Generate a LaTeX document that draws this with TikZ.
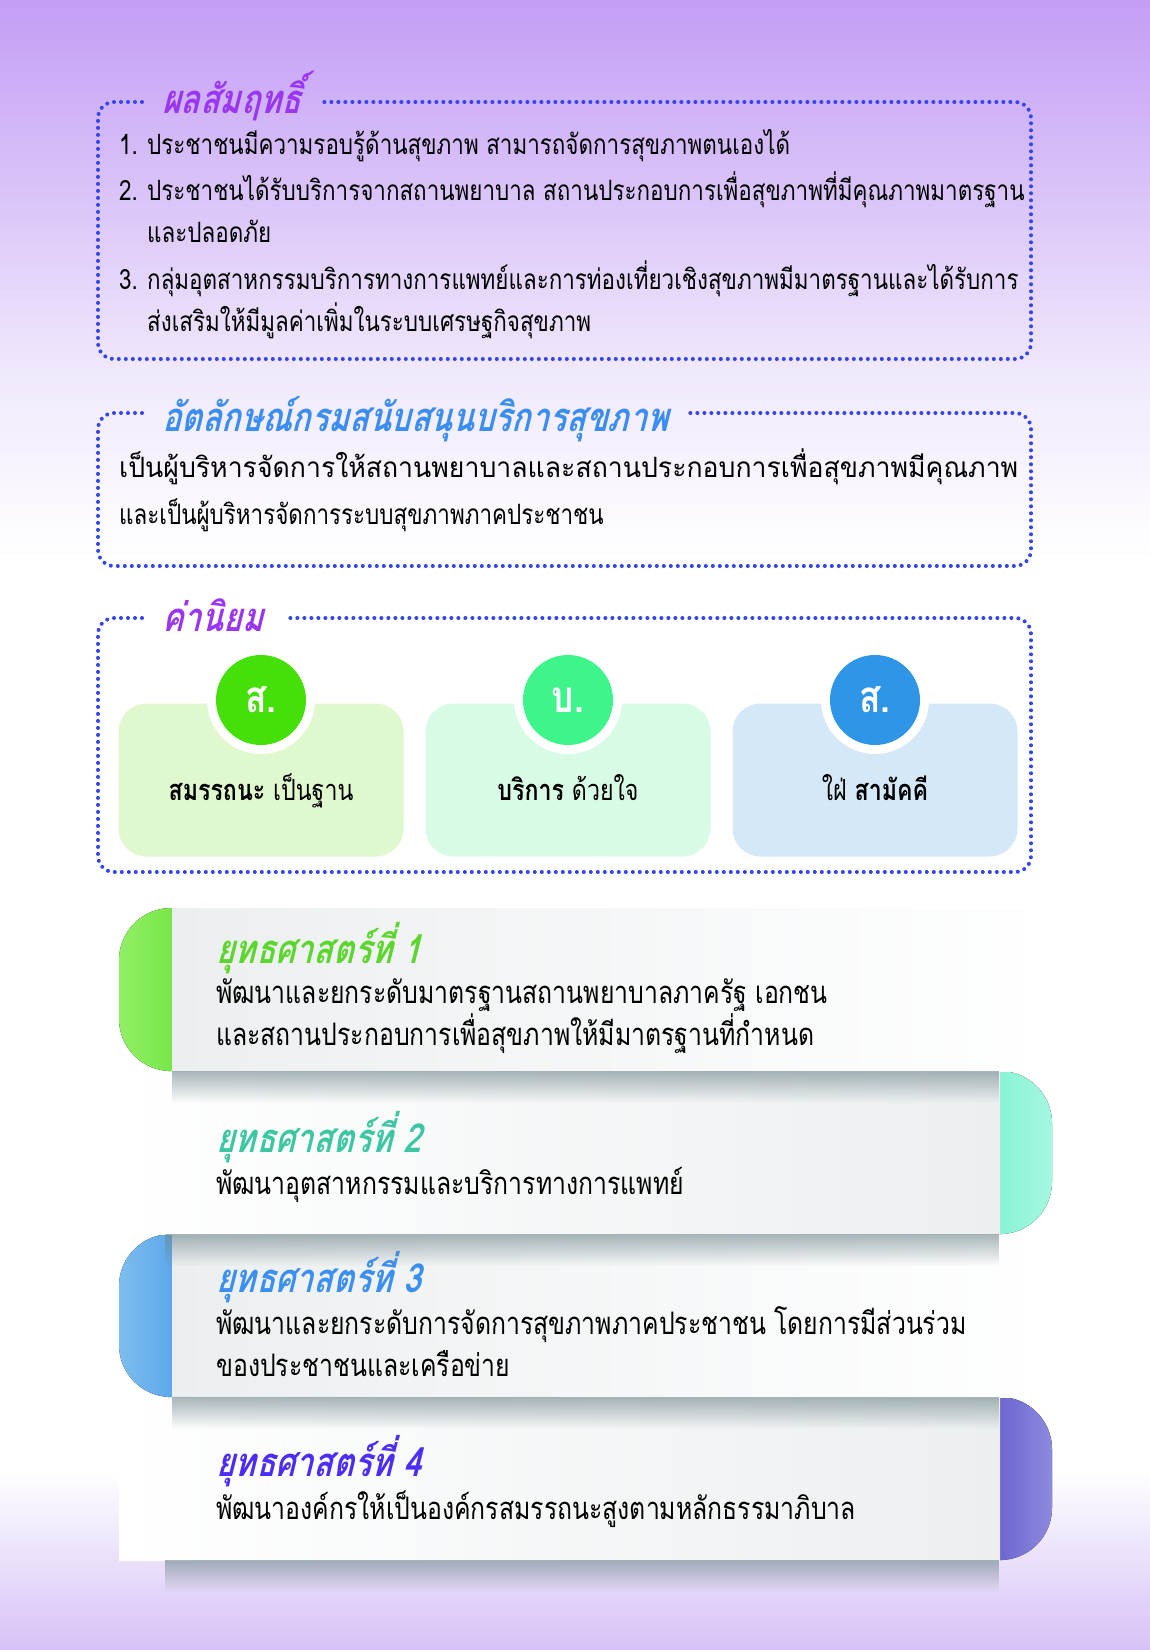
\documentclass[tikz,border=0pt]{standalone}
\usepackage{fontspec}
\usepackage{graphicx}
\usetikzlibrary{fadings}

\newfontfamily\thai[Script=Thai,FakeStretch=0.8]{Loma}
\newfontfamily\thaihead[Script=Thai,FakeSlant=0.25,FakeStretch=0.8]{Loma}

\definecolor{bgtop}{HTML}{C49EF6}
\definecolor{bgup}{HTML}{DAC5F8}
\definecolor{bgmid}{HTML}{F0E8FC}
\definecolor{bgbot}{HTML}{D6C2F6}
\definecolor{dotblue}{HTML}{3344F0}
\definecolor{headpurple}{HTML}{9B36F0}
\definecolor{headblue}{HTML}{3A8EF2}
\definecolor{cardgreen}{HTML}{E0F8CD}
\definecolor{cardmint}{HTML}{D8FBE5}
\definecolor{cardblue}{HTML}{D4E8F8}
\definecolor{badgegreen}{HTML}{45E00A}
\definecolor{badgemint}{HTML}{3EF58C}
\definecolor{badgeblue}{HTML}{2F95E6}
\definecolor{sgreen}{HTML}{5CD62C}
\definecolor{steal}{HTML}{3CC7A2}
\definecolor{sblue}{HTML}{3B8FF0}
\definecolor{sviolet}{HTML}{4A2EF5}
\definecolor{capgreenA}{HTML}{92EF66}
\definecolor{capgreenB}{HTML}{5FE02E}
\definecolor{capmintA}{HTML}{6EF0CB}
\definecolor{capmintB}{HTML}{A6F7E0}
\definecolor{capblueA}{HTML}{7EBDEE}
\definecolor{capblueB}{HTML}{3E95E6}
\definecolor{capvioletA}{HTML}{4A46C0}
\definecolor{capvioletB}{HTML}{8E8ADF}
\definecolor{panel}{HTML}{ECEFF0}
\definecolor{shadowgrey}{HTML}{6F858C}

\begin{document}
\begin{tikzpicture}[x=1pt, y=-1pt,
    body/.style={anchor=base west, inner sep=0pt, font=\thai\fontsize{28}{32}\selectfont},
    stext/.style={anchor=base west, inner sep=0pt, font=\thai\fontsize{31}{34}\selectfont},
    head/.style={anchor=base west, inner xsep=20pt, inner ysep=0pt, font=\thaihead\bfseries\fontsize{40}{46}\selectfont},
    stitle/.style={anchor=base west, inner sep=0pt, font=\thaihead\bfseries\fontsize{40}{44}\selectfont},
    dotline/.style={draw=dotblue, line width=4pt, line cap=round, dash pattern=on 0pt off 7pt, rounded corners=16pt},
    card/.style={rectangle, rounded corners=28pt, minimum width=285pt, minimum height=153pt},
    ring/.style={circle, fill=white, minimum size=108pt, inner sep=0pt},
    badge/.style={circle, minimum size=90pt, inner sep=0pt, text=white, font=\thai\bfseries\fontsize{44}{48}\selectfont},
    label/.style={anchor=base, inner sep=0pt, font=\thai\fontsize{29}{32}\selectfont},
    bshadow/.style={fill=shadowgrey, fill opacity=0.6, path fading=south}
  ]
  \useasboundingbox (0,0) rectangle (1150,1650);

  % Background
  \shade[top color=bgtop, bottom color=bgup] (0,0) rectangle (1150,200);
  \shade[top color=bgup, bottom color=bgmid] (0,199) rectangle (1150,370);
  \shade[top color=bgmid, bottom color=white] (0,369) rectangle (1150,560);
  \fill[white] (0,559) rectangle (1150,1470);
  \shade[top color=white, bottom color=bgbot] (0,1469) rectangle (1150,1650);

  % Box 1
  \coordinate (b1nw) at (98,102);
  \coordinate (b1se) at (1031,359);
  \node[head, text=headpurple] (h1) at (142,113) {ผลสัมฤทธิ์};
  \draw[dotline] (h1.west |- b1nw) -- (b1nw) -- (b1nw |- b1se) -- (b1se) -- (b1se |- b1nw) -- (h1.east |- b1nw);
  \node[body] (n1) at (119,154) {1.};
  \node[body] (i1a) at (147,154) {ประชาชนมีความรอบรู้ด้านสุขภาพ สามารถจัดการสุขภาพตนเองได้};
  \node[body] (n2) at (119,200) {2.};
  \node[body] (i2a) at (147,200) {ประชาชนได้รับบริการจากสถานพยาบาล สถานประกอบการเพื่อสุขภาพที่มีคุณภาพมาตรฐาน};
  \node[body] (i2b) at (147,242) {และปลอดภัย};
  \node[body] (n3) at (119,289) {3.};
  \node[body] (i3a) at (147,289) {กลุ่มอุตสาหกรรมบริการทางการแพทย์และการท่องเที่ยวเชิงสุขภาพมีมาตรฐานและได้รับการ};
  \node[body] (i3b) at (147,331) {ส่งเสริมให้มีมูลค่าเพิ่มในระบบเศรษฐกิจสุขภาพ};

  % Box 2
  \coordinate (b2nw) at (98,413);
  \coordinate (b2se) at (1031,566);
  \node[head, text=headblue] (h2) at (142,431) {อัตลักษณ์กรมสนับสนุนบริการสุขภาพ};
  \draw[dotline] (h2.west |- b2nw) -- (b2nw) -- (b2nw |- b2se) -- (b2se) -- (b2se |- b2nw) -- (h2.east |- b2nw);
  \node[body] (id1) at (119,477) {\resizebox{899pt}{\height}{เป็นผู้บริหารจัดการให้สถานพยาบาลและสถานประกอบการเพื่อสุขภาพมีคุณภาพ}};
  \node[body] (id2) at (119,524) {และเป็นผู้บริหารจัดการระบบสุขภาพภาคประชาชน};

  % Box 3
  \coordinate (b3nw) at (98,618);
  \coordinate (b3se) at (1031,872);
  \node[head, text=headpurple] (h3) at (142,631) {ค่านิยม};
  \draw[dotline] (h3.west |- b3nw) -- (b3nw) -- (b3nw |- b3se) -- (b3se) -- (b3se |- b3nw) -- (h3.east |- b3nw);

  % Values
  \node[card, fill=cardgreen] (v1) at (261,780) {};
  \node[card, fill=cardmint] (v2) at (568,780) {};
  \node[card, fill=cardblue] (v3) at (875,780) {};
  \node[ring] (r1) at (261,700) {};
  \node[ring] (r2) at (568,700) {};
  \node[ring] (r3) at (875,700) {};
  \node[badge, fill=badgegreen] (s1) at (r1) {ส.};
  \node[badge, fill=badgemint] (s2) at (r2) {บ.};
  \node[badge, fill=badgeblue] (s3) at (r3) {ส.};
  \node[label] (l1) at (261,800) {\textbf{สมรรถนะ} เป็นฐาน};
  \node[label] (l2) at (568,800) {\textbf{บริการ} ด้วยใจ};
  \node[label] (l3) at (875,800) {ใฝ่ \textbf{สามัคคี}};

  % Strategy 4
  \fill[rounded corners=52pt, left color=capvioletA, right color=capvioletB] (950,1397) rectangle (1052,1560);
  \fill[left color=white, right color=panel] (119,1397) rectangle (1000,1560);
  \fill[bshadow] (165,1560) rectangle (1000,1592);
  \node[stitle, text=sviolet] (t4) at (216,1476) {ยุทธศาสตร์ที่ 4};
  \node[stext] (p4a) at (216,1519) {พัฒนาองค์กรให้เป็นองค์กรสมรรถนะสูงตามหลักธรรมาภิบาล};

  % Strategy 3
  \fill[rounded corners=52pt, left color=capblueA, right color=capblueB] (119,1234) rectangle (220,1397);
  \fill[left color=panel, right color=white] (172,1234) rectangle (1052,1397);
  \fill[bshadow] (172,1397) rectangle (1000,1429);
  \node[stitle, text=sblue] (t3) at (216,1292) {ยุทธศาสตร์ที่ 3};
  \node[stext] (p3a) at (216,1334) {พัฒนาและยกระดับการจัดการสุขภาพภาคประชาชน โดยการมีส่วนร่วม};
  \node[stext] (p3b) at (216,1376) {ของประชาชนและเครือข่าย};

  % Strategy 2
  \fill[rounded corners=52pt, left color=capmintA, right color=capmintB] (950,1071) rectangle (1052,1234);
  \fill[left color=white, right color=panel] (119,1071) rectangle (1000,1234);
  \fill[bshadow] (165,1234) rectangle (1000,1266);
  \node[stitle, text=steal] (t2) at (216,1152) {ยุทธศาสตร์ที่ 2};
  \node[stext] (p2a) at (216,1194) {พัฒนาอุตสาหกรรมและบริการทางการแพทย์};

  % Strategy 1
  \fill[rounded corners=52pt, left color=capgreenA, right color=capgreenB] (119,908) rectangle (220,1071);
  \fill[left color=panel, right color=white] (172,908) rectangle (1052,1071);
  \fill[bshadow] (172,1071) rectangle (1000,1103);
  \node[stitle, text=sgreen] (t1) at (216,963) {ยุทธศาสตร์ที่ 1};
  \node[stext] (p1a) at (216,1003) {พัฒนาและยกระดับมาตรฐานสถานพยาบาลภาครัฐ เอกชน};
  \node[stext] (p1b) at (216,1045) {และสถานประกอบการเพื่อสุขภาพให้มีมาตรฐานที่กำหนด};
\end{tikzpicture}
\end{document}
